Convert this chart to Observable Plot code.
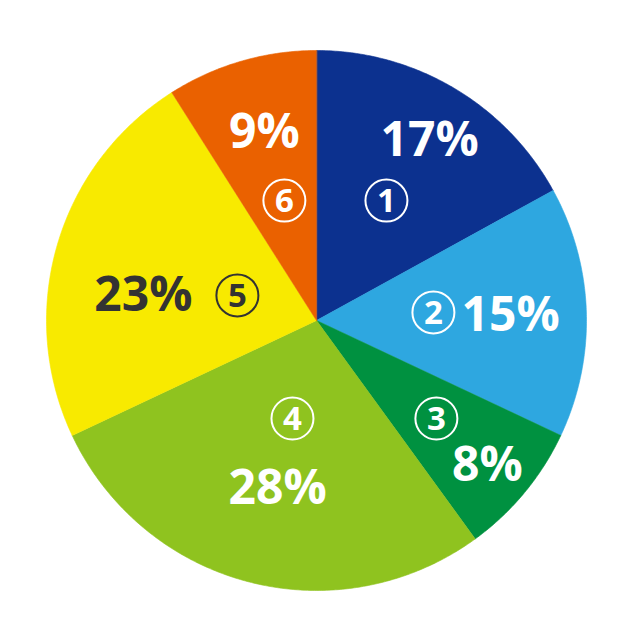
<!DOCTYPE html>
<html>
<head>
<meta charset="utf-8">
<script src="https://cdn.jsdelivr.net/npm/d3@7"></script>
<script src="https://cdn.jsdelivr.net/npm/@observablehq/plot@0.6"></script>
<style>
  html, body { margin: 0; padding: 0; background: #fff; }
</style>
</head>
<body>
<div id="chart"></div>
<script>
// Data
const numbers = ["1", "2", "3", "4", "5", "6"];
const shares = [17, 15, 8, 28, 23, 9];
const sliceColors = ["#0c318f", "#2ea7e0", "#009140", "#8fc31f", "#f8ea00", "#ea6100"];
const textColors = ["#ffffff", "#ffffff", "#ffffff", "#ffffff", "#333333", "#ffffff"];

// Label layout (in pie units, radius = 1)
const pctX = [0.419, 0.719, 0.633, -0.144, -0.641, -0.193];
const pctY = [0.667, 0.019, -0.537, -0.622, 0.093, 0.696];
const numX = [0.259, 0.433, 0.444, -0.089, -0.293, -0.119];
const numY = [0.444, 0.030, -0.363, -0.363, 0.093, 0.444];

// Build slice polygons from shares
const total = d3.sum(shares);
const slicePts = [];
let cum = 0;
shares.forEach((s, i) => {
  const a0 = cum / total * 2 * Math.PI;
  cum += s;
  const a1 = cum / total * 2 * Math.PI;
  slicePts.push({k: i, x: 0, y: 0});
  const n = Math.max(2, Math.ceil((a1 - a0) / (Math.PI / 360)));
  for (let j = 0; j <= n; j++) {
    const a = a0 + (a1 - a0) * j / n;
    slicePts.push({k: i, x: Math.sin(a), y: Math.cos(a)});
  }
});

const labels = shares.map((s, i) => ({
  pct: s + "%", num: numbers[i], color: textColors[i],
  px: pctX[i], py: pctY[i], nx: numX[i], ny: numY[i]
}));

const font = "'Open Sans', 'Noto Sans', sans-serif";

const chart = Plot.plot({
  width: 640,
  height: 640,
  marginLeft: 46,
  marginRight: 54,
  marginTop: 50,
  marginBottom: 50,
  x: {domain: [-1, 1], axis: null},
  y: {domain: [-1, 1], axis: null},
  style: {background: "#fff", fontFamily: font},
  marks: [
    Plot.line(slicePts, {
      x: "x", y: "y", z: "k",
      fill: d => sliceColors[d.k],
      stroke: d => sliceColors[d.k],
      strokeWidth: 0.6,
      curve: "linear-closed"
    }),
    Plot.dot(labels, {
      x: "nx", y: "ny", r: 21,
      stroke: "color", strokeWidth: 2, fill: "none"
    }),
    Plot.text(labels, {
      x: "nx", y: "ny", text: "num", fill: "color",
      fontSize: 33, fontWeight: "bold", fontFamily: font, dy: 1
    }),
    Plot.text(labels, {
      x: "px", y: "py", text: "pct", fill: "color",
      fontSize: 48, fontWeight: "bold", fontFamily: font
    })
  ]
});
document.getElementById("chart").appendChild(chart);
</script>
</body>
</html>
